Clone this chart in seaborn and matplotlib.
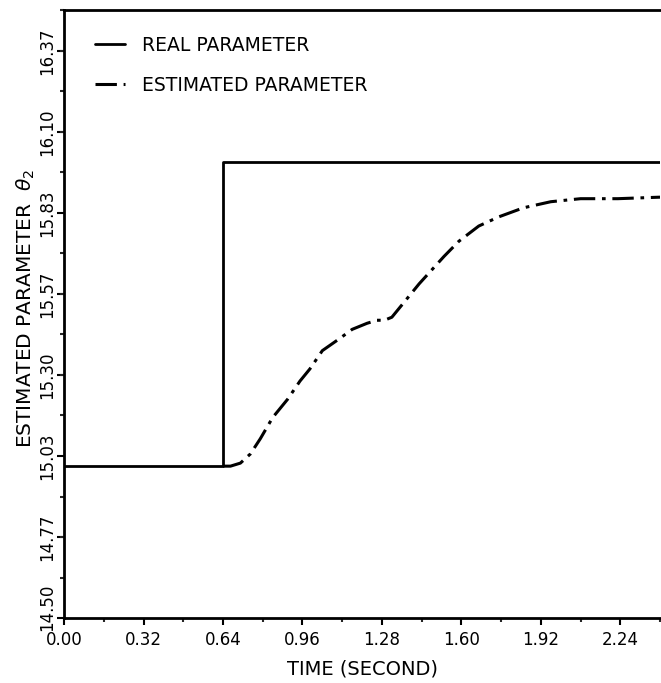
import matplotlib
matplotlib.use("Agg")
import matplotlib.pyplot as plt
import matplotlib.transforms as mtransforms
import seaborn as sns
import pandas as pd
import numpy as np
from matplotlib.ticker import MultipleLocator, FixedLocator

# ---- data ----
t_real = [0.00, 0.64, 0.64, 2.40]
v_real = [15.00, 15.00, 16.00, 16.00]

t_est = [0.64, 0.67, 0.71, 0.75, 0.79, 0.84, 0.90, 0.95, 0.99, 1.04, 1.11,
         1.16, 1.22, 1.26, 1.29, 1.32, 1.35, 1.40, 1.43, 1.53, 1.59, 1.67, 1.75,
         1.85, 1.96, 2.08, 2.23, 2.40]
v_est = [15.00, 15.00, 15.01, 15.04, 15.09, 15.16, 15.22, 15.28, 15.32, 15.38, 15.42,
         15.45, 15.47, 15.48, 15.48, 15.49, 15.52, 15.57, 15.60, 15.69, 15.74, 15.79, 15.82,
         15.85, 15.87, 15.88, 15.88, 15.885]

x_ticks = [0.00, 0.32, 0.64, 0.96, 1.28, 1.60, 1.92, 2.24]
y_ticks = [14.50, 14.7667, 15.0333, 15.30, 15.5667, 15.8333, 16.10, 16.3667]
y_tick_labels = ["14.50", "14.77", "15.03", "15.30", "15.57", "15.83", "16.10", "16.37"]

labels = ["REAL PARAMETER", "ESTIMATED PARAMETER"]

sns.set_theme(style="ticks")
plt.rcParams['font.family'] = ['DejaVu Sans']
plt.rcParams['text.color'] = 'black'
plt.rcParams['axes.labelcolor'] = 'black'

fig = plt.figure(figsize=(6.61, 6.83), dpi=100)
ax = fig.add_axes([0.097, 0.095, 0.9015, 0.89])

df_real = pd.DataFrame({"t": t_real, "v": v_real})
df_est = pd.DataFrame({"t": t_est, "v": v_est})

sns.lineplot(data=df_real, x="t", y="v", ax=ax, sort=False, estimator=None,
             color="black", lw=2.0, label=labels[0], zorder=3)
sns.lineplot(data=df_est, x="t", y="v", ax=ax, sort=False, estimator=None,
             color="black", lw=2.2, linestyle=(0, (7, 2.2, 1.2, 2.2)), label=labels[1], zorder=2)

ax.set_xlim(0, 2.40)
ax.set_ylim(14.50, 16.50)

ax.set_xticks(x_ticks)
ax.set_xticklabels([f"{v:.2f}" for v in x_ticks])
ax.xaxis.set_minor_locator(MultipleLocator(0.16))
ax.set_yticks(y_ticks)
ax.set_yticklabels(y_tick_labels, rotation=90, va="center")
ax.yaxis.set_minor_locator(FixedLocator([14.5 + 0.13333 * k for k in range(16)]))

ax.tick_params(axis="both", which="major", direction="out", length=5, width=1.5,
               labelsize=12, colors="black")
ax.tick_params(axis="x", which="major", pad=4)
ax.tick_params(axis="y", which="major", pad=1)
ax.tick_params(axis="both", which="minor", direction="out", length=3, width=1.5)

# lift the lowest y tick label a little so it clears "0.00"
first = ax.get_yticklabels()[0]
first.set_transform(first.get_transform() +
                    mtransforms.ScaledTranslation(0, 11 / 100, fig.dpi_scale_trans))

for s in ["left", "bottom", "top"]:
    ax.spines[s].set_linewidth(2.0)
    ax.spines[s].set_color("black")
ax.spines["right"].set_visible(False)

ax.set_xlabel("TIME (SECOND)", fontsize=14, labelpad=8)
ax.set_ylabel(r"ESTIMATED PARAMETER  $\theta_2$", fontsize=14.5)
ax.yaxis.set_label_coords(-0.046, 0.51)

leg = ax.legend(loc="upper left", frameon=False, fontsize=13.5, handlelength=1.6,
                handletextpad=0.9, labelspacing=1.12, borderaxespad=0.0,
                bbox_to_anchor=(0.04, 0.97))

fig.savefig("out.png", dpi=100)
